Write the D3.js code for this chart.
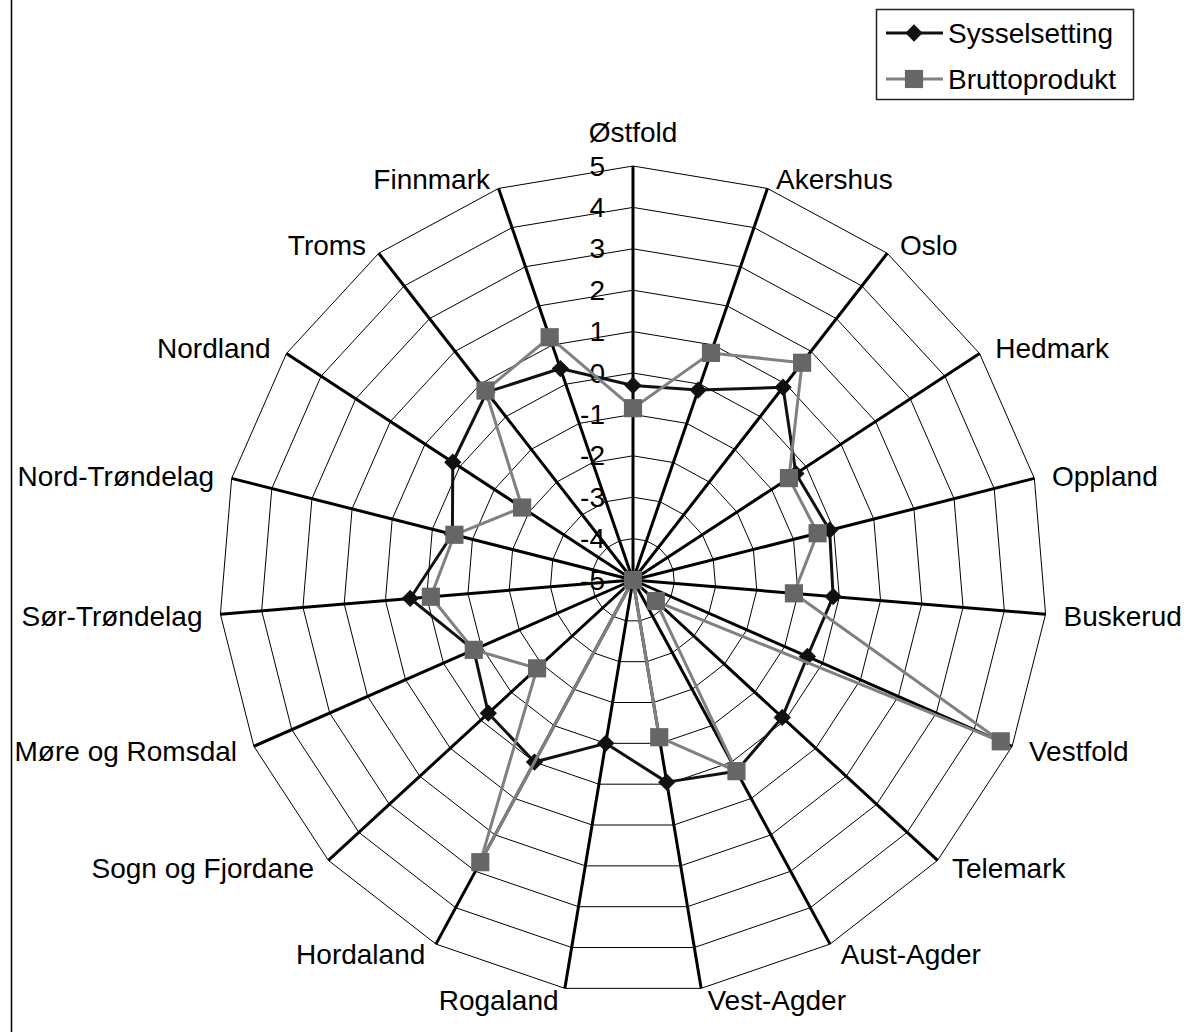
<!DOCTYPE html>
<html>
<head>
<meta charset="utf-8">
<script src="https://cdn.jsdelivr.net/npm/d3@7"></script>
<style>
  body { margin: 0; background: #fff; }
  text { font-family: "Liberation Sans", Arial, sans-serif; font-size: 28px; fill: #000; }
</style>
</head>
<body>
<svg id="chart"></svg>
<script>
const categories = ["Østfold", "Akershus", "Oslo", "Hedmark", "Oppland", "Buskerud", "Vestfold",
    "Telemark", "Aust-Agder", "Vest-Agder", "Rogaland", "Hordaland", "Sogn og Fjordane",
    "Møre og Romsdal", "Sør-Trøndelag", "Nord-Trøndelag", "Nordland", "Troms", "Finnmark"];
const sysselsetting = [-0.3, -0.15, 0.9, -0.3, -0.1, -0.15, -0.4, -0.1, 0.25, -0.05,
    -1.0, 0.0, -0.25, -0.8, 0.4, -0.5, 0.2, 0.75, 0.4];
const bruttoprodukt = [-0.85, 0.8, 1.65, -0.5, -0.4, -1.1, 4.7, -4.25, 0.25, -1.15,
    -5.0, 2.75, -1.85, -0.8, -0.1, -0.55, -1.8, 0.8, 1.2];
const tickValues = [-5, -4, -3, -2, -1, 0, 1, 2, 3, 4, 5];
const seriesNames = ["Sysselsetting", "Bruttoprodukt"];

const width = 1194, height = 1032;
const cx = 633, cy = 580, R = 414;
const n = categories.length;

const svg = d3.select("#chart").attr("width", width).attr("height", height);

const r = d3.scaleLinear().domain([-5, 5]).range([0, R]);
const angle = d3.scaleLinear().domain([0, n]).range([0, 2 * Math.PI]);

const g = svg.append("g").attr("transform", `translate(${cx},${cy})`);

// left frame line
svg.append("line")
    .attr("x1", 11.5).attr("x2", 11.5).attr("y1", 0).attr("y2", height)
    .attr("stroke", "#000").attr("stroke-width", 1.5);

// tick labels (drawn under the grid)
g.selectAll(".tick")
    .data(tickValues)
    .join("text")
    .attr("class", "tick")
    .attr("x", -28)
    .attr("y", (d) => -r(d))
    .attr("text-anchor", "end")
    .attr("dominant-baseline", "central")
    .text((d) => d);

// rings
const ring = d3.lineRadial()
    .angle((d, i) => angle(i))
    .radius((d) => r(d))
    .curve(d3.curveLinearClosed);

g.selectAll(".ring")
    .data(tickValues.filter((t) => t > -5))
    .join("path")
    .attr("class", "ring")
    .attr("d", (t) => ring(categories.map(() => t)))
    .attr("fill", "none")
    .attr("stroke", "#000")
    .attr("stroke-width", 1);

// spokes
g.selectAll(".spoke")
    .data(categories)
    .join("line")
    .attr("class", "spoke")
    .attr("x1", 0).attr("y1", 0)
    .attr("x2", (d, i) => R * Math.sin(angle(i)))
    .attr("y2", (d, i) => -R * Math.cos(angle(i)))
    .attr("stroke", "#000")
    .attr("stroke-width", 3);

// category labels
g.selectAll(".cat")
    .data(categories)
    .join("text")
    .attr("class", "cat")
    .each(function (d, i) {
        const a = angle(i), s = Math.sin(a), c = Math.cos(a);
        const ex = R * s, ey = -R * c;
        const t = d3.select(this);
        if (Math.abs(s) < 0.05) {
            t.attr("x", ex).attr("y", ey - 24).attr("text-anchor", "middle");
        } else {
            t.attr("x", ex + Math.sign(s) * (Math.abs(s) * 14 + 4))
                .attr("y", ey - c * 11 + 1)
                .attr("text-anchor", s > 0 ? "start" : "end")
                .attr("dominant-baseline", "central");
        }
    })
    .text((d) => d);

// series
const pt = (v, i) => [r(v) * Math.sin(angle(i)), -r(v) * Math.cos(angle(i))];
const series = [
    { name: seriesNames[0], values: sysselsetting, line: "#111", fill: "#111", sym: d3.symbol(d3.symbolSquare, 150), rot: 45 },
    { name: seriesNames[1], values: bruttoprodukt, line: "#808080", fill: "#666", sym: d3.symbol(d3.symbolSquare, 330), rot: 0 },
];

series.forEach((s) => {
    g.append("path")
        .attr("d", ring(s.values))
        .attr("fill", "none")
        .attr("stroke", s.line)
        .attr("stroke-width", 3)
        .attr("stroke-linejoin", "round");
    g.selectAll(null)
        .data(s.values)
        .join("path")
        .attr("d", s.sym)
        .attr("transform", (d, i) => `translate(${pt(d, i)}) rotate(${s.rot})`)
        .attr("fill", s.fill);
});

// legend
const legend = svg.append("g").attr("transform", "translate(876,9)");
legend.append("rect")
    .attr("x", 0.5).attr("y", 0.5).attr("width", 257).attr("height", 90)
    .attr("fill", "#fff").attr("stroke", "#222").attr("stroke-width", 1.5);
series.forEach((s, k) => {
    const y = 24 + k * 46;
    legend.append("line")
        .attr("x1", 10).attr("x2", 67).attr("y1", y).attr("y2", y)
        .attr("stroke", s.line).attr("stroke-width", 3);
    legend.append("path")
        .attr("d", s.sym)
        .attr("transform", `translate(38,${y}) rotate(${s.rot})`)
        .attr("fill", s.fill);
    legend.append("text")
        .attr("x", 72).attr("y", y)
        .attr("dominant-baseline", "central")
        .text(s.name);
});
</script>
</body>
</html>
